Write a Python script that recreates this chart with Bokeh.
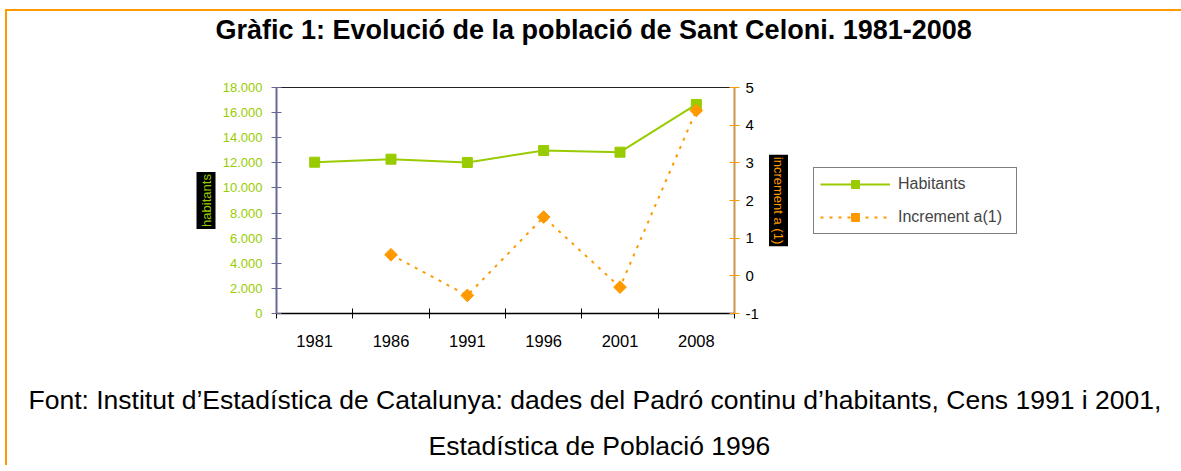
import math
from bokeh.plotting import figure
from bokeh.models import (Range1d, LinearAxis, FixedTicker, Legend, LegendItem,
                          Title, ColumnDataSource)
from bokeh.embed import file_html
from bokeh.resources import INLINE

# ---- data ----
years = ["1981", "1986", "1991", "1996", "2001", "2008"]
habitants = [12050, 12290, 12030, 12980, 12850, 16650]
increment = [float("nan"), 0.56, -0.52, 1.56, -0.30, 4.39]
left_ticks = list(range(0, 18001, 2000))
right_ticks = list(range(-1, 6))

title_text = "Gràfic 1: Evolució de la població de Sant Celoni. 1981-2008"
foot1 = "Font: Institut d\u2019Estadística de Catalunya: dades del Padró continu d\u2019habitants, Cens 1991 i 2001,"
foot2 = "Estadística de Població 1996"
left_label = "habitants"
right_label = "increment a (1)"
series_names = ["Habitants", "Increment a(1)"]

FONT = "Liberation Sans"
GREEN = "#99cc00"
ORANGE = "#ff9900"

xpos = [i + 0.5 for i in range(len(years))]
src = ColumnDataSource(dict(x=xpos, hab=habitants, inc=increment))

p = figure(frame_width=458, frame_height=226, output_backend="svg",
           toolbar_location=None,
           x_range=Range1d(0, len(years)), y_range=Range1d(0, 18000),
           min_border_left=269, min_border_right=445, min_border_top=76,
           min_border_bottom=152,
           styles={"margin-left": "5px", "margin-top": "9px",
                   "border-top": "2px solid #ff9900",
                   "border-left": "2px solid #ff9900"})
p.extra_y_ranges = {"inc": Range1d(-1, 5)}
p.xgrid.visible = False
p.ygrid.visible = False
p.outline_line_color = "#222222"
p.background_fill_color = "white"
p.border_fill_color = "white"

# x axis
xa = p.xaxis[0]
xa.ticker = FixedTicker(ticks=xpos, minor_ticks=list(range(len(years) + 1)))
xa.major_label_overrides = {x: y for x, y in zip(xpos, years)}
xa.major_tick_line_color = None
xa.major_tick_in = 0
xa.major_tick_out = 5
xa.minor_tick_line_color = "black"
xa.minor_tick_in = 5
xa.minor_tick_out = 5
xa.axis_line_color = "black"
xa.axis_line_width = 1.5
xa.major_label_text_font = FONT
xa.major_label_text_font_size = "16.5px"
xa.major_label_text_color = "black"
xa.major_label_standoff = 16

# left axis
ya = p.yaxis[0]
ya.ticker = FixedTicker(ticks=left_ticks)
ya.major_label_overrides = {t: f"{t:,}".replace(",", ".") for t in left_ticks}
ya.minor_tick_line_color = None
ya.major_tick_in = 5
ya.major_tick_out = 5
ya.major_tick_line_color = "#666699"
ya.axis_line_color = "#666699"
ya.axis_line_width = 2
ya.major_label_text_font = FONT
ya.major_label_text_font_size = "13px"
ya.major_label_text_color = GREEN
ya.major_label_standoff = 9

# right axis
ra = LinearAxis(y_range_name="inc", ticker=FixedTicker(ticks=right_ticks))
ra.major_label_overrides = {t: str(t) for t in right_ticks}
ra.minor_tick_line_color = None
ra.major_tick_in = 5
ra.major_tick_out = 5
ra.major_tick_line_color = ORANGE
ra.axis_line_color = "#c8964b"
ra.axis_line_width = 2
ra.major_label_text_font = FONT
ra.major_label_text_font_size = "15px"
ra.major_label_text_color = "black"
ra.major_label_standoff = 6
p.add_layout(ra, "right")


def mk_title(text, size, color="black", style="normal", standoff=0, valign="middle",
             align="center", offset=0, bg=None):
    t = Title(text=text, text_font=FONT, text_font_size=size, text_color=color,
              text_font_style=style, vertical_align=valign, align=align,
              offset=offset, standoff=standoff)
    if bg is not None:
        t.background_fill_color = bg
        try:
            t.padding = 2
        except Exception:
            pass
    return t


# axis labels with black background (as side titles)
p.add_layout(mk_title(left_label, "13px", GREEN, standoff=6, bg="black"), "left")
p.add_layout(mk_title(right_label, "13px", ORANGE, standoff=13, bg="black"), "right")

# glyphs
l1 = p.line("x", "hab", source=src, line_color=GREEN, line_width=2)
s1 = p.scatter("x", "hab", source=src, marker="square", size=10,
               fill_color=GREEN, line_color=GREEN)
l2 = p.line("x", "inc", source=src, y_range_name="inc", line_color=ORANGE,
            line_width=2, line_dash="3 6")
s2 = p.scatter("x", "inc", source=src, y_range_name="inc", marker="square",
               angle=math.pi / 4, size=9, fill_color=ORANGE, line_color=ORANGE)

legend = Legend(items=[LegendItem(label=series_names[0], renderers=[l1, s1]),
                       LegendItem(label=series_names[1], renderers=[l2, s2])],
                location=(-286, 79))
legend.border_line_color = "black"
legend.border_line_width = 1
legend.background_fill_color = "white"
legend.label_text_font = FONT
legend.label_text_font_size = "16px"
legend.glyph_width = 70
legend.glyph_height = 20
legend.label_height = 20
legend.label_width = 112
legend.label_standoff = 8
legend.padding = 6
legend.spacing = 13
legend.margin = 12
p.add_layout(legend, "right")

# title (spacer first, closest to the frame)
p.add_layout(mk_title(" ", "10px", standoff=29), "above")
p.add_layout(mk_title(title_text, "27px", style="bold", standoff=0,
                      align="left", offset=-61), "above")

# footer
p.add_layout(mk_title(" ", "8px", standoff=8), "below")
p.add_layout(mk_title(foot1, "26.5px", standoff=30, align="left", offset=-248), "below")
p.add_layout(mk_title(foot2, "26.5px", standoff=0, valign="top",
                      align="left", offset=152), "below")

open("out.html", "w").write(file_html(p, INLINE))
